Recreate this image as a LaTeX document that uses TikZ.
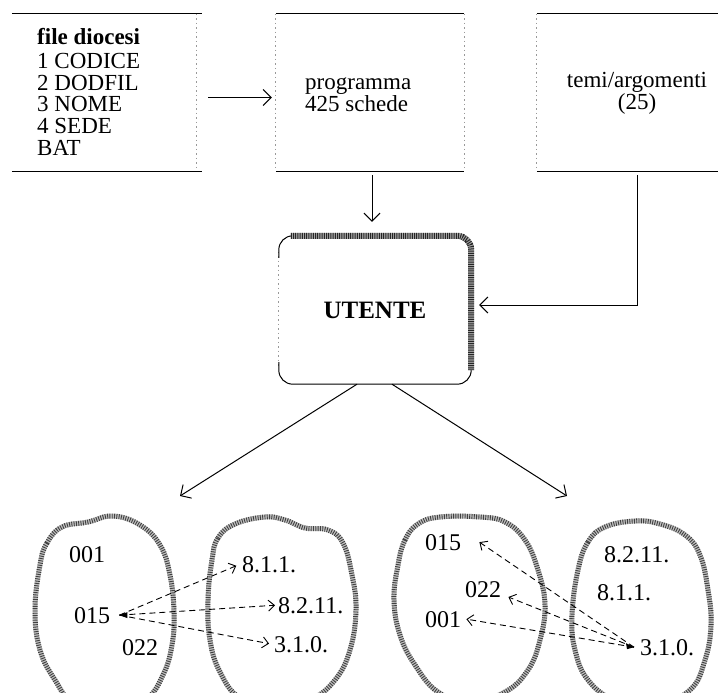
\documentclass[tikz,border=0pt]{standalone}
\usepackage{fontspec}
\setmainfont{Liberation Serif}
\usetikzlibrary{arrows.meta}
\begin{document}
\begin{tikzpicture}[x=1pt,y=-1pt,
  frame/.style={draw=none, inner sep=0pt},
  txt/.style={font=\fontsize{23}{21.7}\selectfont, inner sep=0pt},
  edgeline/.style={line width=1.3pt, black},
  side/.style={black!40, line width=0.7pt, dash pattern=on 1.5pt off 3pt},
  conn/.style={line width=1pt, -{Straight Barb[length=8pt,width=16pt]}},
  bandbase/.style={black!35, line width=6pt},
  bandtex/.style={black!85, line width=6pt, dash pattern=on 1pt off 1.2pt},
  blobbase/.style={black!25, line width=5pt},
  blobtex/.style={black!75, line width=5pt, dash pattern=on 0.9pt off 1.4pt},
  lab/.style={font=\fontsize{24}{24}\selectfont, inner sep=2pt, anchor=base west},
  dconn/.style={line width=0.9pt, dash pattern=on 6pt off 4pt},
  openhead/.style={-{Straight Barb[length=6pt,width=11pt]}},
]
\path[use as bounding box] (0,0) rectangle (718,693);
\clip (0,0) rectangle (718,693);

% ---------- top boxes ----------
\node[frame, minimum width=190pt, minimum height=157pt] (box1) at (107,92.5) {};
\node[frame, minimum width=188pt, minimum height=157pt] (box2) at (370,92.5) {};
\node[frame, minimum width=200pt, minimum height=157pt] (box3) at (637,92.5) {};

\draw[edgeline] (box1.north west) -- (box1.north east);
\draw[edgeline] (box1.south west) -- (box1.south east);
\draw[side] ([xshift=-6pt]box1.north east) -- ([xshift=-6pt]box1.south east);

\draw[edgeline] (box2.north west) -- (box2.north east);
\draw[edgeline] (box2.south west) -- (box2.south east);
\draw[side] (box2.north west) -- (box2.south west);
\draw[side] (box2.north east) -- (box2.south east);

\draw[edgeline] (box3.north west) -- (box3.north east);
\draw[edgeline] (box3.south west) -- (box3.south east);
\draw[side] (box3.north west) -- (box3.south west);

\node[txt, anchor=north west, align=left] (t1) at (37,28)
  {\textbf{file diocesi}\\[2.5pt]1 CODICE\\2 DODFIL\\3 NOME\\4 SEDE\\BAT};
\node[txt, anchor=north west, align=left] (t2) at (305,77.5) {programma\\425 schede};
\node[txt, anchor=north, align=center] (t3) at (637,72.5) {temi/argomenti\\(25)};

% ---------- UTENTE ----------
\node[frame, minimum width=192pt, minimum height=148pt,
      font=\fontsize{25}{25}\selectfont\bfseries] (ut) at (375,310) {UTENTE};
\draw[side] ([yshift=-16pt]ut.north west) -- ([yshift=16pt]ut.south west);
\draw[line width=1pt, rounded corners=14pt]
  ([yshift=22pt]ut.south west) -- (ut.south west) -- (ut.south east) -- ([yshift=22pt]ut.south east);
\draw[line width=1pt, rounded corners=14pt]
  ([yshift=-22pt]ut.north west) -- (ut.north west) -- ([xshift=22pt]ut.north west);
\draw[bandbase, rounded corners=14pt]
  ([xshift=12pt]ut.north west) -- (ut.north east) -- ([yshift=14pt]ut.south east);
\draw[bandtex, rounded corners=14pt]
  ([xshift=12pt]ut.north west) -- (ut.north east) -- ([yshift=14pt]ut.south east);

% ---------- connectors ----------
\draw[conn, shorten <=6pt, shorten >=4pt] ([yshift=-5pt]box1.east) -- ([yshift=-5pt]box2.west);
\draw[conn, shorten <=4pt, shorten >=14pt] ([xshift=2pt]box2.south) -- ([xshift=2pt]box2.south |- ut.north);
\draw[conn, shorten <=4pt, shorten >=8pt] (box3.south) |- ([yshift=5pt]ut.east);

\coordinate (lgrp) at (180,496);
\coordinate (rgrp) at (567,496);
\draw[conn] ([xshift=-18pt]ut.south) -- (lgrp);
\draw[conn] ([xshift=17pt]ut.south) -- (rgrp);

% ---------- blobs ----------
\def\blobA{(40,565) (47,543) (62,527) (88,522) (113,516) (140,525) (160,545) (170,575)
  (174,612) (172,645) (163,675) (145,700) (110,712) (75,705) (55,680) (40,650) (35,610)}
\def\blobB{(212,560) (218,538) (235,524) (265,517) (285,520) (305,528) (328,530) (343,543)
  (352,575) (356,610) (350,650) (335,680) (310,700) (275,708) (240,698) (220,672)
  (210,640) (208,600)}
\def\blobC{(398,565) (405,540) (418,524) (440,517) (480,517) (505,522) (525,540) (538,570)
  (545,605) (540,640) (528,670) (505,692) (470,702) (438,692) (415,665) (400,635) (394,600)}
\def\blobD{(578,570) (588,542) (605,527) (635,521) (660,524) (685,535) (700,555) (708,590)
  (711,625) (705,660) (690,690) (655,705) (615,700) (588,680) (575,650) (572,615)}
\foreach \b in {\blobA,\blobB,\blobC,\blobD}{
  \draw[blobbase] plot[smooth cycle, tension=0.7] coordinates {\b};
  \draw[blobtex] plot[smooth cycle, tension=0.7] coordinates {\b};
}

% ---------- labels ----------
\node[lab] (l001) at (67,562) {001};
\node[lab] (l015) at (72,623) {015};
\node[lab] (l022) at (120,655) {022};
\node[lab] (l811) at (240,572) {8.1.1.};
\node[lab] (l8211) at (276,613) {8.2.11.};
\node[lab] (l310) at (272,652) {3.1.0.};

\node[lab] (r015) at (423,550) {015};
\node[lab] (r022) at (463,597) {022};
\node[lab] (r001) at (423,627) {001};
\node[lab] (r8211) at (602,562) {8.2.11.};
\node[lab] (r811) at (595,600) {8.1.1.};
\node[lab] (r310) at (638,655) {3.1.0.};

% ---------- dashed arrows ----------
\draw[dconn, openhead, shorten >=4pt] ([xshift=7pt]l015.east) -- (l811.west);
\draw[dconn, openhead, shorten >=1pt] ([xshift=7pt]l015.east) -- (l8211.west);
\draw[dconn, openhead, shorten >=3pt] ([xshift=7pt]l015.east) -- (l310.west);
\fill ([xshift=7pt]l015.east) -- ++(8,-3) -- ++(0,6) -- cycle;

\draw[dconn, openhead] ([xshift=-4pt]r310.west) -- ([xshift=16pt]r015.east);
\draw[dconn, openhead] ([xshift=-4pt]r310.west) -- ([xshift=5pt]r022.base east);
\draw[dconn, openhead] ([xshift=-4pt]r310.west) -- ([xshift=3pt]r001.east);
\fill ([xshift=-4pt]r310.west) -- ++(-8,-4) -- ++(1,6) -- cycle;
\end{tikzpicture}
\end{document}
